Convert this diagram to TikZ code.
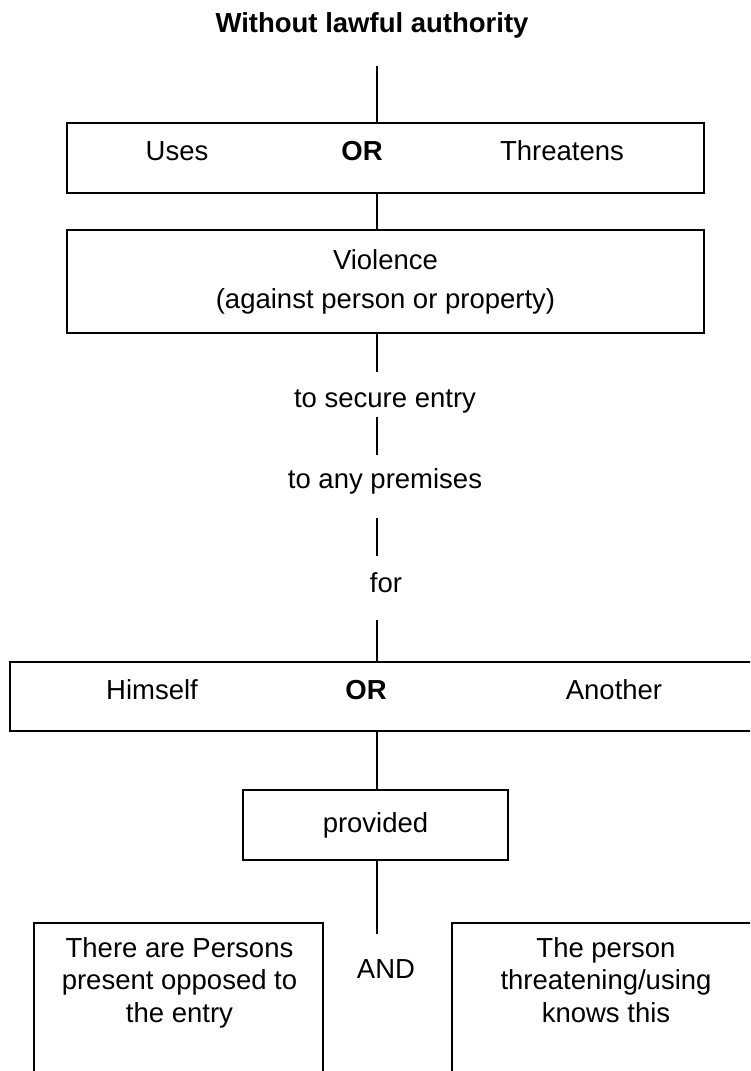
\documentclass[tikz,border=0pt]{standalone}
\usepackage{fontspec}
\setmainfont{Liberation Sans}
\usepackage{tikz}

\begin{document}
\begin{tikzpicture}[x=1pt, y=-1pt,
    txt/.style={anchor=base, inner sep=0pt, font=\fontsize{27.5}{32.5}\selectfont},
    boldtxt/.style={txt, font=\fontsize{27.5}{32.5}\selectfont\bfseries},
    bigbox/.style={draw, line width=2.2pt, inner sep=0pt},
    lowbox/.style={draw, line width=1.6pt, inner sep=0pt},
    link/.style={line width=1.6pt}]
    \useasboundingbox (0,0) rectangle (750,1071);
    \clip (0,0) rectangle (750,1071);

    % Heading
    \node[boldtxt] (title) at (372,32) {Without lawful authority};
    \coordinate (spine) at (377,0);

    % Uses OR Threatens
    \node[bigbox, minimum width=637pt, minimum height=70pt] (useor) at (385.5,158) {};
    \node[txt] (uses) at (177,160) {Uses};
    \node[boldtxt] (or1) at (362,160) {OR};
    \node[txt] (threat) at (562,160) {Threatens};

    % Violence
    \node[bigbox, minimum width=637pt, minimum height=103pt, align=center,
          font=\fontsize{27.5}{39}\selectfont] (viol) at (385.5,281.5)
          {Violence\\(against person or property)};

    % Plain text steps
    \node[txt] (secure) at (385,407) {to secure entry};
    \node[txt] (premises) at (385,488) {to any premises};
    \node[txt] (for) at (386,592) {for};

    % Himself OR Another
    \node[bigbox, minimum width=760pt, minimum height=69pt] (who) at (390,696.5) {};
    \node[txt] (himself) at (152,699) {Himself};
    \node[boldtxt] (or2) at (366,699) {OR};
    \node[txt] (another) at (614,699) {Another};

    % provided
    \node[bigbox, minimum width=265pt, minimum height=70pt,
          font=\fontsize{27.5}{32.5}\selectfont] (prov) at (375.5,825) {provided};

    % Conditions
    \node[lowbox, minimum width=289pt, minimum height=177pt] (left) at (178.5,1011.5) {};
    \node[lowbox, minimum width=318pt, minimum height=177pt] (right) at (611,1011.5) {};
    \node[txt, align=center] (persons) at (179.5,1022) {There are Persons\\present opposed to\\the entry};
    \node[txt, align=center] (knows) at (606,1022) {The person\\threatening/using\\knows this};
    \node[txt] (and) at (386,978) {AND};

    % Spine
    \coordinate (a0) at (377,66);
    \coordinate (a1) at (377,372);
    \coordinate (a2) at (377,417);
    \coordinate (a3) at (377,455);
    \coordinate (a4) at (377,518);
    \coordinate (a5) at (377,556);
    \coordinate (a6) at (377,620);
    \coordinate (a7) at (377,934);
    \draw[link] (a0) -- (useor.north -| spine);
    \draw[link] (useor.south -| spine) -- (viol.north -| spine);
    \draw[link] (viol.south -| spine) -- (a1);
    \draw[link] (a2) -- (a3);
    \draw[link] (a4) -- (a5);
    \draw[link] (a6) -- (who.north -| spine);
    \draw[link] (who.south -| spine) -- (prov.north -| spine);
    \draw[link] (prov.south -| spine) -- (a7);
\end{tikzpicture}
\end{document}
